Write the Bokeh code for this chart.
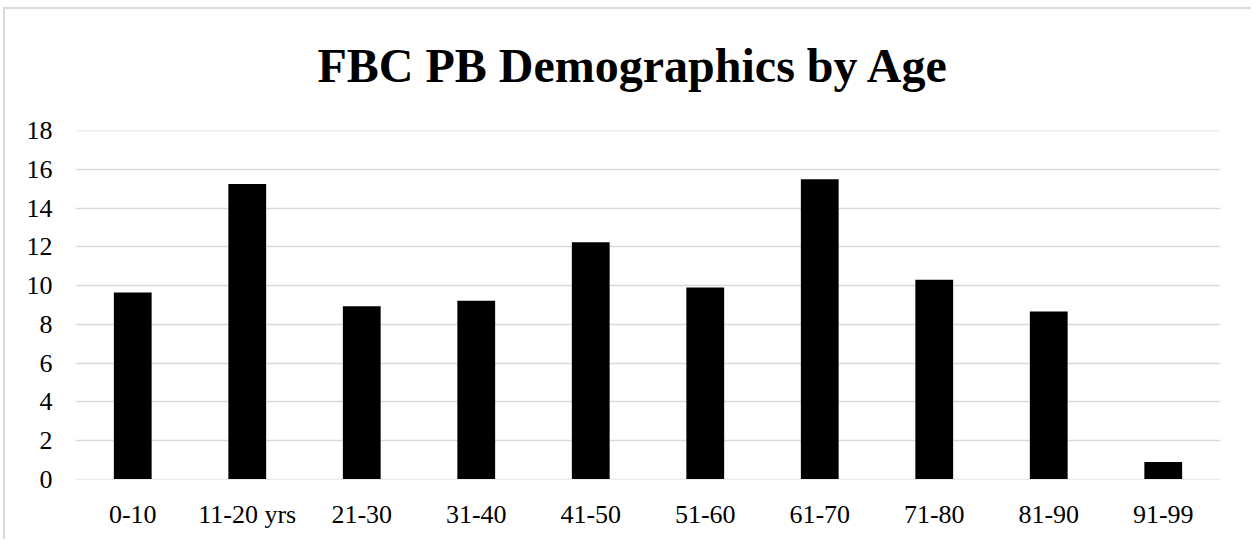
from bokeh.plotting import figure
from bokeh.models import ColumnDataSource, FixedTicker, Range1d, FactorRange, Title
from bokeh.embed import file_html
from bokeh.resources import INLINE

categories = ["0-10", "11-20 yrs", "21-30", "31-40", "41-50", "51-60", "61-70", "71-80", "81-90", "91-99"]
values = [9.64, 15.26, 8.93, 9.22, 12.24, 9.9, 15.5, 10.31, 8.67, 0.88]
y_ticks = [0, 2, 4, 6, 8, 10, 12, 14, 16, 18]
title_text = "FBC PB Demographics by Age"

FONT = "Liberation Serif"

source = ColumnDataSource(data=dict(cat=categories, val=values))

p = figure(
    width=1248, height=532,
    x_range=FactorRange(*categories, range_padding=0),
    y_range=Range1d(-0.02, 18.02),
    output_backend="svg", toolbar_location=None,
    min_border_left=70, min_border_right=33,
    min_border_top=121, min_border_bottom=62,
    title=title_text,
)
p.styles = {"margin-left": "3px", "margin-top": "7px",
            "border-left": "2px solid #d9d9d9", "border-top": "2px solid #d9d9d9"}
p.outline_line_color = None
p.background_fill_color = "white"
p.border_fill_color = "white"

p.title.text_font = FONT
p.title.text_font_size = "48px"
p.title.text_font_style = "bold"
p.title.text_color = "black"
p.title.align = "left"
p.title.offset = 242
p.title.standoff = 20

# invisible spacer panel between title and plot area
p.add_layout(Title(text=" ", text_font_size="10px", standoff=16), "above")

p.vbar(x="cat", top="val", bottom=0, width=0.33, source=source, fill_color="black", line_color=None)

p.yaxis.ticker = FixedTicker(ticks=y_ticks)
p.yaxis.axis_line_color = None
p.yaxis.major_tick_line_color = None
p.yaxis.minor_tick_line_color = None
p.yaxis.major_label_text_font = FONT
p.yaxis.major_label_text_font_size = "26px"
p.yaxis.major_label_text_color = "black"
p.yaxis.major_label_standoff = 17

p.xaxis.axis_line_color = None
p.xaxis.major_tick_line_color = None
p.xaxis.major_label_text_font = FONT
p.xaxis.major_label_text_font_size = "26px"
p.xaxis.major_label_text_color = "black"
p.xaxis.major_label_standoff = 14

p.xgrid.grid_line_color = None
p.ygrid.grid_line_color = "#d9d9d9"
p.ygrid.grid_line_width = 1.5

open("out.html", "w").write(file_html(p, INLINE))
